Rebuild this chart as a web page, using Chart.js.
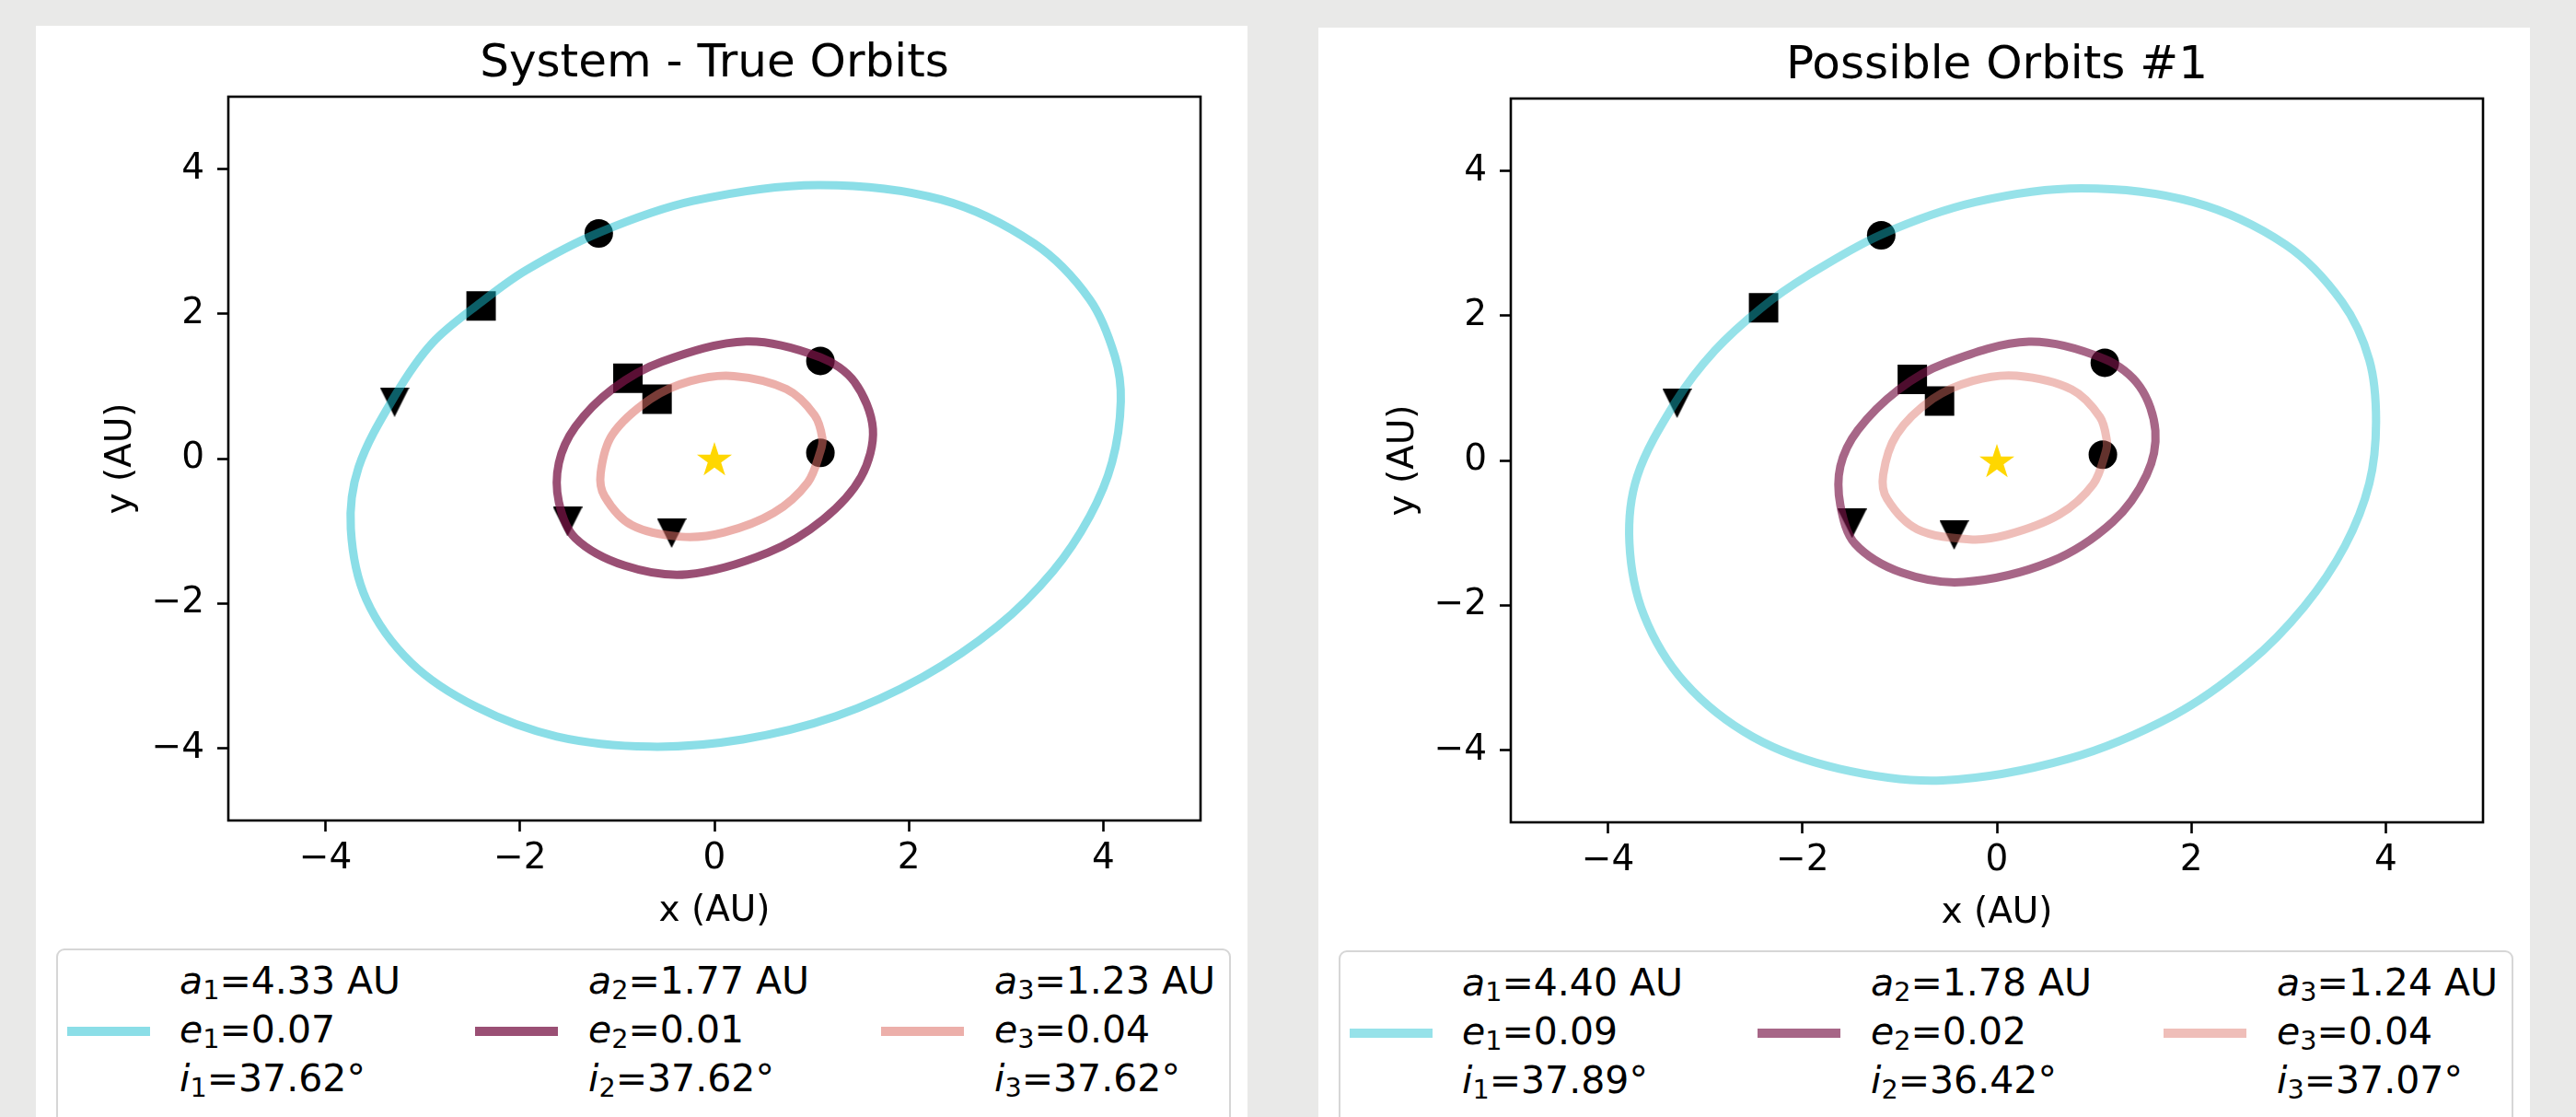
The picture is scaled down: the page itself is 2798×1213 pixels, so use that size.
<!DOCTYPE html>
<html>
<head>
<meta charset="utf-8">
<script src="https://cdn.jsdelivr.net/npm/chart.js@4.4.1/dist/chart.umd.min.js"></script>
<style>
    body { margin: 0; width: 2798px; height: 1213px; overflow: hidden; background: #e9e9e8; font-family: "DejaVu Sans", sans-serif; }
    .card { position: absolute; width: 1316px; height: 1200px; background: #fff; }
    .plot { position: absolute; left: 0; top: 0; width: 1316px; height: 1000px; }
    .legend { position: absolute; left: 22px; top: 1002px; width: 1272px; height: 240px; border: 2px solid #d6d6d6; border-radius: 9px; background: #fff; }
    .sample { position: absolute; width: 90px; height: 10px; }
    .row { position: absolute; height: 50px; line-height: 50px; font-size: 41px; color: #000; white-space: nowrap; }
    .row i { font-style: italic; }
    .row sub { font-size: 0.7em; vertical-align: -0.22em; line-height: 0; }
</style>
</head>
<body>
<div class="card" style="left:39px; top:28px;">
    <div class="plot"><canvas id="trueChart"></canvas></div>
    <div class="legend" id="trueLegend"></div>
</div>
<div class="card" style="left:1432px; top:30px;">
    <div class="plot"><canvas id="fitChart"></canvas></div>
    <div class="legend" id="fitLegend"></div>
</div>
<script>
// orbit tracks, [x, y] in AU
const trueOrbit1 = [[1.06,3.78],[2.33,3.58],[3.29,2.97],[3.86,2.20],[4.12,1.41],[4.18,0.79],[4.09,-0.05],[3.86,-0.80],[3.48,-1.56],[2.91,-2.32],[2.14,-3.02],[1.25,-3.56],[0.29,-3.88],[-0.66,-3.98],[-1.62,-3.84],[-2.45,-3.43],[-3.12,-2.82],[-3.58,-1.95],[-3.74,-0.97],[-3.66,-0.12],[-3.29,0.86],[-2.90,1.60],[-2.40,2.16],[-1.94,2.60],[-1.19,3.12],[-0.22,3.56]];
const trueOrbit2 = [[0.33,1.62],[1.09,1.40],[1.44,1.06],[1.63,0.41],[1.51,-0.25],[1.12,-0.84],[0.55,-1.30],[-0.28,-1.60],[-0.92,-1.48],[-1.43,-1.10],[-1.60,-0.60],[-1.60,-0.06],[-1.43,0.44],[-1.05,0.96],[-0.54,1.34]];
const trueOrbit3 = [[0.20,1.14],[0.74,0.96],[1.03,0.60],[1.11,0.28],[1.09,0.10],[0.96,-0.33],[0.61,-0.75],[0.10,-1.02],[-0.34,-1.08],[-0.85,-0.92],[-1.13,-0.52],[-1.17,-0.20],[-1.05,0.33],[-0.66,0.82],[-0.25,1.07]];

const fitOrbit1 = [[0.87,3.76],[2.02,3.57],[2.97,2.98],[3.55,2.19],[3.83,1.39],[3.90,0.54],[3.83,-0.32],[3.58,-1.18],[3.16,-2.02],[2.59,-2.80],[1.82,-3.52],[0.74,-4.12],[-0.56,-4.42],[-1.62,-4.26],[-2.51,-3.82],[-3.21,-3.07],[-3.63,-2.14],[-3.78,-1.14],[-3.70,-0.22],[-3.31,0.80],[-2.90,1.52],[-2.42,2.11],[-1.94,2.56],[-1.19,3.12],[-0.22,3.57]];
const fitOrbit2 = [[0.33,1.64],[1.11,1.40],[1.47,1.02],[1.63,0.41],[1.54,-0.20],[1.19,-0.85],[0.55,-1.40],[-0.34,-1.68],[-0.98,-1.55],[-1.46,-1.15],[-1.61,-0.62],[-1.61,-0.08],[-1.43,0.42],[-1.01,0.98],[-0.54,1.34]];
const fitOrbit3 = [[0.20,1.17],[0.77,0.98],[1.06,0.60],[1.13,0.28],[1.12,0.12],[0.99,-0.33],[0.64,-0.75],[0.10,-1.03],[-0.28,-1.09],[-0.82,-0.95],[-1.13,-0.53],[-1.17,-0.20],[-1.03,0.36],[-0.66,0.85],[-0.25,1.10]];

// planet positions at three epochs
const trueCircles = [[-1.19,3.11],[1.09,1.35],[1.09,0.08]];
const trueSquares = [[-2.40,2.11],[-0.89,1.11],[-0.59,0.82]];
const trueTriangles = [[-3.29,0.78],[-1.51,-0.87],[-0.44,-1.03]];
const fitCircles = [[-1.19,3.11],[1.11,1.35],[1.09,0.08]];
const fitSquares = [[-2.40,2.11],[-0.87,1.12],[-0.59,0.82]];
const fitTriangles = [[-3.29,0.79],[-1.49,-0.87],[-0.44,-1.03]];
const starPos = [[0,0]];

const tickValues = [-4, -2, 0, 2, 4];

// legend values
const trueA = ["4.33", "1.77", "1.23"];
const trueE = ["0.07", "0.01", "0.04"];
const trueI = ["37.62", "37.62", "37.62"];
const fitA = ["4.40", "1.78", "1.24"];
const fitE = ["0.09", "0.02", "0.04"];
const fitI = ["37.89", "36.42", "37.07"];

const orbitRgb = ["23,190,207", "120,20,70", "220,110,100"];
const FONT = "DejaVu Sans";

Chart.defaults.font.family = FONT;
Chart.defaults.color = "#000";

function toPoints(arr) {
    return arr.map(p => ({ x: p[0], y: p[1] }));
}

// marker images for the down triangle and the star
function triangleDown(size) {
    const c = document.createElement("canvas");
    c.width = size; c.height = size;
    const g = c.getContext("2d");
    g.fillStyle = "#000";
    g.beginPath();
    g.moveTo(0, 0);
    g.lineTo(size, 0);
    g.lineTo(size / 2, size);
    g.closePath();
    g.fill();
    return c;
}

function starImage(r, color) {
    const s = Math.ceil(r * 2 + 2);
    const c = document.createElement("canvas");
    c.width = s; c.height = s;
    const g = c.getContext("2d");
    const cx = s / 2, cy = s / 2 + r * 0.1;
    g.fillStyle = color;
    g.beginPath();
    for (let k = 0; k < 10; k++) {
        const rad = k % 2 === 0 ? r : r * 0.382;
        const a = -Math.PI / 2 + k * Math.PI / 5;
        const px = cx + rad * Math.cos(a), py = cy + rad * Math.sin(a);
        if (k === 0) g.moveTo(px, py); else g.lineTo(px, py);
    }
    g.closePath();
    g.fill();
    return c;
}

const triImg = triangleDown(32);
const starImg = starImage(20, "#FFD700");

// make orbit datasets closed loops (same trick the radar chart uses)
const closeLoops = {
    id: "closeLoops",
    afterDatasetUpdate(chart, args) {
        const ds = chart.data.datasets[args.index];
        if (ds.closed && args.meta.dataset) {
            args.meta.dataset._loop = true;
            args.meta.dataset._fullLoop = true;
        }
    }
};

const frame = {
    id: "frame",
    afterDatasetsDraw(chart) {
        const { ctx, chartArea: a } = chart;
        ctx.save();
        ctx.strokeStyle = "#000";
        ctx.lineWidth = 2.6;
        ctx.strokeRect(a.left, a.top, a.right - a.left, a.bottom - a.top);
        ctx.restore();
    }
};

function fmtTick(v) {
    return v < 0 ? "\u2212" + Math.abs(v) : String(v);
}

function axis(titleText, isX) {
    return {
        type: "linear",
        min: -5,
        max: 5,
        afterBuildTicks: a => { a.ticks = tickValues.map(v => ({ value: v })); },
        afterFit: a => { if (isX) a.height = 137; else a.width = 209; },
        grid: { drawOnChartArea: false, drawTicks: true, tickLength: 12, tickColor: "#000", tickWidth: 2.6 },
        border: { display: false },
        ticks: { font: { size: 39 }, color: "#000", padding: isX ? 6 : 14, callback: v => fmtTick(v), maxRotation: 0 },
        title: {
            display: true,
            text: titleText,
            font: { size: 39 },
            color: "#000",
            padding: isX ? { top: 8, bottom: 15 } : { top: 69, bottom: 8 }
        }
    };
}

function makeChart(id, titleText, orbits, circles, squares, triangles, alphas) {
    const datasets = [];
    orbits.forEach((o, k) => {
        datasets.push({
            data: toPoints(o),
            closed: true,
            showLine: true,
            borderColor: "rgba(" + orbitRgb[k] + "," + alphas[k] + ")",
            borderWidth: 9,
            tension: 0.33,
            pointRadius: 0,
            order: 0
        });
    });
    datasets.push({ data: toPoints(circles), showLine: false, pointStyle: "circle", pointRadius: 15.5, backgroundColor: "#000", borderWidth: 0, order: 1 });
    datasets.push({ data: toPoints(squares), showLine: false, pointStyle: "rect", pointRadius: 22.6, backgroundColor: "#000", borderWidth: 0, order: 1 });
    datasets.push({ data: toPoints(triangles), showLine: false, pointStyle: triImg, pointRadius: 16, order: 1 });
    datasets.push({ data: toPoints(starPos), showLine: false, pointStyle: starImg, pointRadius: 20, order: 1 });

    return new Chart(document.getElementById(id), {
        type: "line",
        data: { datasets: datasets },
        options: {
            responsive: true,
            maintainAspectRatio: false,
            animation: false,
            events: [],
            layout: { padding: { left: 0, right: 51, top: 0, bottom: 0 } },
            scales: {
                x: axis("x (AU)", true),
                y: axis("y (AU)", false)
            },
            plugins: {
                legend: { display: false },
                tooltip: { enabled: false },
                title: {
                    display: true,
                    fullSize: false,
                    text: titleText,
                    color: "#000",
                    font: { size: 50, weight: "normal" },
                    padding: { top: 12, bottom: 5 }
                }
            }
        },
        plugins: [closeLoops, frame]
    });
}

function buildLegend(id, aVals, eVals, iVals, alphas) {
    const box = document.getElementById(id);
    const lineX = [10, 453, 894];
    const textX = [132, 576, 1017];
    for (let k = 0; k < 3; k++) {
        const s = document.createElement("div");
        s.className = "sample";
        s.style.left = lineX[k] + "px";
        s.style.top = "83px";
        s.style.background = "rgba(" + orbitRgb[k] + "," + alphas[k] + ")";
        box.appendChild(s);
        const n = k + 1;
        const rows = [
            "<i>a</i><sub>" + n + "</sub>=" + aVals[k] + " AU",
            "<i>e</i><sub>" + n + "</sub>=" + eVals[k],
            "<i>i</i><sub>" + n + "</sub>=" + iVals[k] + "°"
        ];
        rows.forEach((html, r) => {
            const d = document.createElement("div");
            d.className = "row";
            d.style.left = textX[k] + "px";
            d.style.top = (8 + r * 53) + "px";
            d.innerHTML = html;
            box.appendChild(d);
        });
    }
}

const trueAlpha = [0.5, 0.75, 0.55];
const fitAlpha = [0.45, 0.65, 0.45];

makeChart("trueChart", "System - True Orbits", [trueOrbit1, trueOrbit2, trueOrbit3], trueCircles, trueSquares, trueTriangles, trueAlpha);
makeChart("fitChart", "Possible Orbits #1", [fitOrbit1, fitOrbit2, fitOrbit3], fitCircles, fitSquares, fitTriangles, fitAlpha);
buildLegend("trueLegend", trueA, trueE, trueI, trueAlpha);
buildLegend("fitLegend", fitA, fitE, fitI, fitAlpha);
</script>
</body>
</html>
